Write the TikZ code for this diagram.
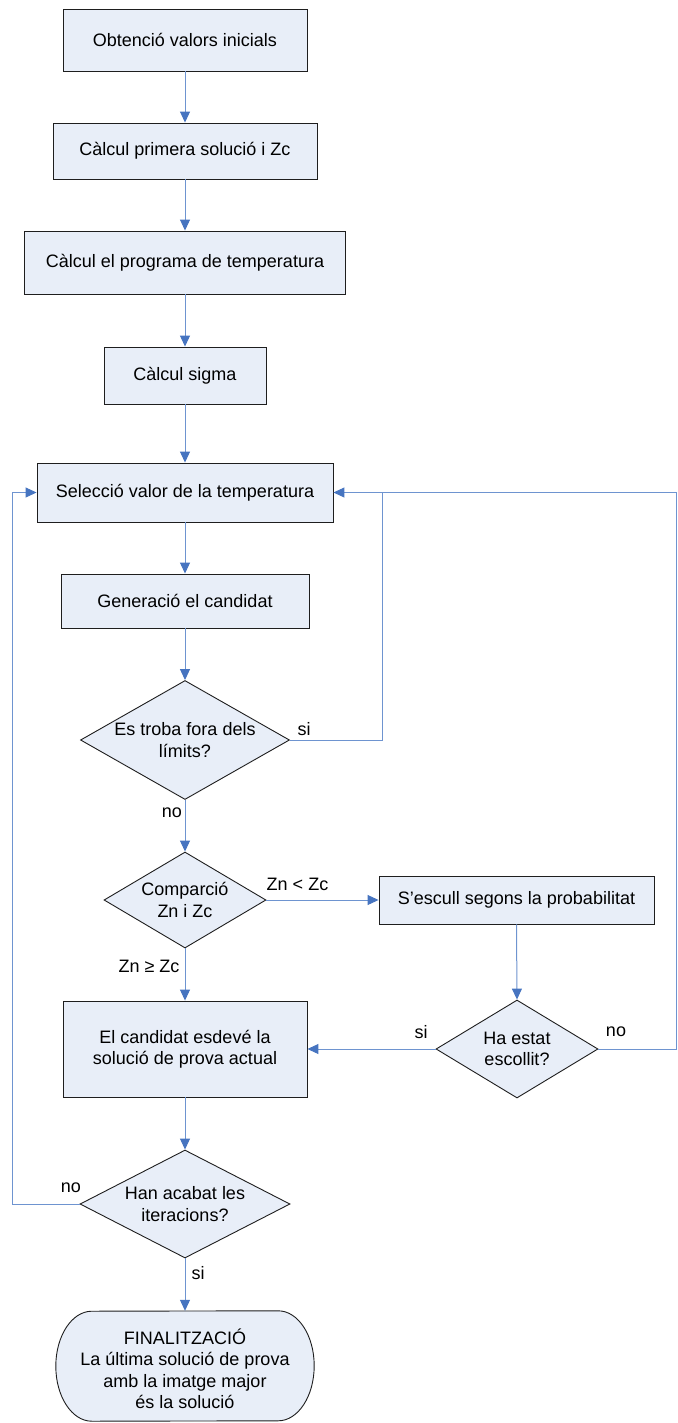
\documentclass[tikz,border=0pt]{standalone}
\usepackage{fontspec}
\setmainfont{Liberation Sans}
\usetikzlibrary{shapes.geometric,arrows.meta}
\definecolor{boxfill}{RGB}{232,238,248}
\definecolor{boxline}{RGB}{30,30,30}
\definecolor{wire}{RGB}{110,148,208}
\definecolor{tipblue}{RGB}{70,116,192}
\newcommand\flowfont{\fontsize{18}{21.5}\selectfont}
\tikzset{
  stepbox/.style={rectangle, draw=boxline, fill=boxfill, line width=0.9pt,
    inner sep=0pt, align=center, font=\flowfont},
  choice/.style={diamond, draw=boxline, fill=boxfill, line width=0.9pt,
    inner sep=0pt, shape aspect=1},
  choicetext/.style={align=center, font=\flowfont, inner sep=0pt},
  tag/.style={font=\flowfont, inner sep=0pt},
  wireline/.style={draw=wire, line width=1pt},
  flow/.style={wireline, -{Triangle[length=11pt,width=10pt,color=tipblue]}},
}
\begin{document}
\begin{tikzpicture}[x=1pt,y=-1pt]
\useasboundingbox (0,0) rectangle (677,1423);

% main column of process steps
\node[stepbox, minimum width=244, minimum height=62] (b1) at (185,40) {Obtenció valors inicials};
\node[stepbox, minimum width=264, minimum height=56] (b2) at (185,151) {Càlcul primera solució i Zc};
\node[stepbox, minimum width=321, minimum height=63] (b3) at (185,262.5) {Càlcul el programa de temperatura};
\node[stepbox, minimum width=162, minimum height=57] (b4) at (185,375.5) {Càlcul sigma};
\node[stepbox, minimum width=296, minimum height=59] (b5) at (185,492.5) {Selecció valor de la temperatura};
\node[stepbox, minimum width=248, minimum height=54] (b6) at (185,601) {Generació el candidat};

% decisions
\node[choice, minimum width=209, minimum height=119] (d1) at (185,740) {};
\node[choicetext] at (d1.center) {Es troba fora dels\\límits?};
\node[choice, minimum width=162, minimum height=96] (d2) at (185,900) {};
\node[choicetext] at (d2.center) {Comparció\\Zn i Zc};
\node[stepbox, minimum width=275, minimum height=48] (esc) at (516.5,900) {S’escull segons la probabilitat};
\node[choice, minimum width=162, minimum height=98] (d3) at (517,1049) {};
\node[choicetext] at (d3.center) {Ha estat\\escollit?};
\node[stepbox, minimum width=244, minimum height=96] (b7) at (185,1049) {El candidat esdevé la\\solució de prova actual};
\node[choice, minimum width=210, minimum height=108] (d4) at (185,1204) {};
\node[choicetext] at (d4.center) {Han acabat les\\iteracions?};

% terminator with elliptic ends
\node[minimum width=258, minimum height=110, inner sep=0pt] (term) at (185,1366) {};
\draw[draw=boxline, fill=boxfill, line width=0.9pt]
  ([xshift=-36pt]term.north east) arc[start angle=-90, end angle=90, x radius=36, y radius=55]
  -- ([xshift=36pt]term.south west) arc[start angle=90, end angle=270, x radius=36, y radius=55]
  -- cycle;
\node[choicetext] at ([yshift=-3pt]term.center) {FINALITZACIÓ\\La última solució de prova\\amb la imatge major\\és la solució};

% return rails
\coordinate (lrail) at (12,0);
\coordinate (mrail) at (382,0);
\coordinate (rrail) at (676,0);

% connectors
\draw[flow] (b1) -- (b2);
\draw[flow] (b2) -- (b3);
\draw[flow] (b3) -- (b4);
\draw[flow] (b4) -- (b5);
\draw[flow] (b5) -- (b6);
\draw[flow] (b6) -- (d1);
\draw[flow] (d1.south) -- (d2.north);
\draw[flow] (d2.east) -- (esc.west);
\draw[flow] (esc.south) -- (d3.north);
\draw[flow] (d3.west) -- (b7.east);
\draw[flow] (d2.south) -- (b7.north);
\draw[flow] (b7) -- (d4);
\draw[flow] (d4.south) -- (term.north);
\draw[flow] (d4.west) -- (d4.west -| lrail) -- (b5.west -| lrail) -- (b5.west);
\draw[flow] (d3.east) -- (d3.east -| rrail) -- (b5.east -| rrail) -- (b5.east);
\draw[wireline] (d1.east) -- (d1.east -| mrail) -- (b5.east -| mrail);

% branch labels
\node[tag] (t1) at (304,729) {si};
\node[tag] (t2) at (172,813) {no};
\node[tag] (t3) at (297.5,884) {Zn < Zc};
\node[tag] (t4) at (149,966) {Zn ≥ Zc};
\node[tag] (t5) at (421,1032) {si};
\node[tag] (t6) at (616,1032) {no};
\node[tag] (t7) at (71,1188) {no};
\node[tag] (t8) at (198,1273) {si};
\end{tikzpicture}
\end{document}
